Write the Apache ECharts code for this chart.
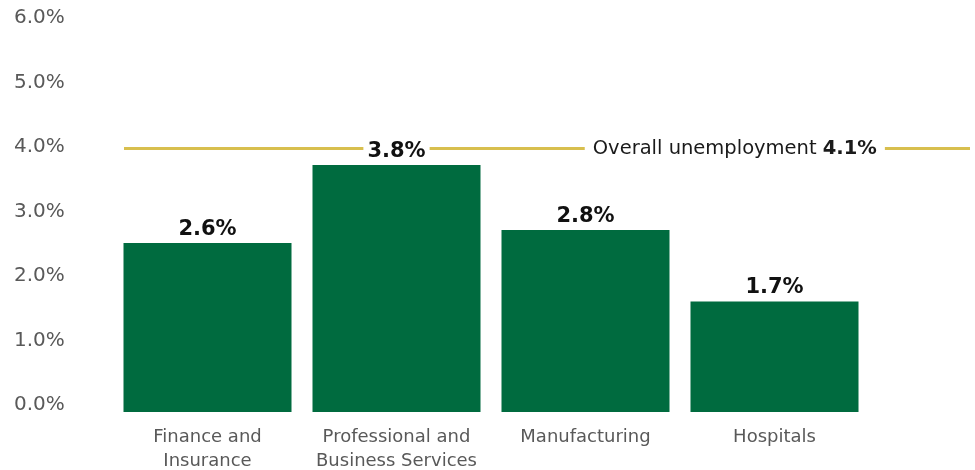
<!DOCTYPE html>
<html>
<head>
<meta charset="utf-8">
<script src="https://cdn.jsdelivr.net/npm/echarts@6/dist/echarts.min.js"></script>
<style>
  html, body { margin: 0; padding: 0; background: #ffffff; }
  #chart { width: 975px; height: 470px; }
</style>
</head>
<body>
<div id="chart"></div>
<script>
var categories = ['Finance and\nInsurance', 'Professional and\nBusiness Services', 'Manufacturing', 'Hospitals'];
var rates = [2.6, 3.8, 2.8, 1.7];
var overallRate = 4.1;
var yTicks = [0, 1, 2, 3, 4, 5, 6];

var chart = echarts.init(document.getElementById('chart'));
var font = '"DejaVu Sans", sans-serif';

var option = {
    backgroundColor: '#ffffff',
    animation: false,
    textStyle: { fontFamily: font },
    grid: [
        { left: 113, right: 106, top: 22, height: 390, outerBoundsMode: 'none' },   // bars
        { left: 124, right: 5, top: 25, height: 390, outerBoundsMode: 'none' },     // overall line
        { left: 113, right: 106, top: 18, height: 387, outerBoundsMode: 'none' }    // tick labels
    ],
    xAxis: [{
        type: 'category',
        gridIndex: 0,
        data: categories,
        axisLine: { show: false },
        axisTick: { show: false },
        axisLabel: {
            interval: 0,
            color: '#595959',
            fontSize: 18,
            lineHeight: 24,
            margin: 13,
            fontFamily: font
        }
    }, {
        type: 'value',
        gridIndex: 1,
        min: 0,
        max: 1,
        show: false
    }, {
        type: 'value',
        gridIndex: 2,
        show: false
    }],
    yAxis: [{
        type: 'value',
        gridIndex: 0,
        min: yTicks[0],
        max: yTicks[yTicks.length - 1],
        interval: 1,
        splitLine: { show: false },
        axisLine: { show: false },
        axisTick: { show: false },
        axisLabel: { show: false }
    }, {
        type: 'value',
        gridIndex: 1,
        min: yTicks[0],
        max: yTicks[yTicks.length - 1],
        show: false
    }, {
        type: 'value',
        gridIndex: 2,
        min: yTicks[0],
        max: yTicks[yTicks.length - 1],
        interval: 1,
        splitLine: { show: false },
        axisLine: { show: false },
        axisTick: { show: false },
        axisLabel: {
            color: '#595959',
            fontSize: 20,
            align: 'left',
            margin: 99,
            fontFamily: font,
            formatter: function (v) { return v.toFixed(1) + '%'; }
        }
    }],
    series: [{
        // overall line drawn first so bar labels sit on top of it
        type: 'line',
        xAxisIndex: 1,
        yAxisIndex: 1,
        data: [[0, overallRate], [1, overallRate]],
        symbol: 'none',
        z: 1,
        lineStyle: { color: '#d8bf4e', width: 3 },
        markPoint: {
            symbol: 'rect',
            symbolSize: 1,
            itemStyle: { color: 'rgba(0,0,0,0)' },
            data: [{ coord: [0.722, overallRate] }],
            label: {
                show: true,
                position: 'inside',
                backgroundColor: '#ffffff',
                padding: [2, 8],
                color: '#1a1a1a',
                fontSize: 19.5,
                fontFamily: font,
                formatter: 'Overall unemployment {b|' + overallRate.toFixed(1) + '%}',
                rich: {
                    b: { fontWeight: 'bold', fontSize: 19.5, color: '#1a1a1a', fontFamily: font }
                }
            }
        }
    }, {
        type: 'bar',
        xAxisIndex: 0,
        yAxisIndex: 0,
        data: rates,
        barWidth: 168,
        z: 3,
        itemStyle: { color: '#006b3f' },
        label: {
            show: true,
            position: 'top',
            distance: 2,
            color: '#111111',
            fontSize: 21,
            fontWeight: 'bold',
            fontFamily: font,
            backgroundColor: '#ffffff',
            padding: [1, 4],
            formatter: function (p) { return p.value.toFixed(1) + '%'; }
        }
    }]
};
chart.setOption(option);

window.onresize = function () {
    chart.resize();
};
</script>
</body>
</html>
